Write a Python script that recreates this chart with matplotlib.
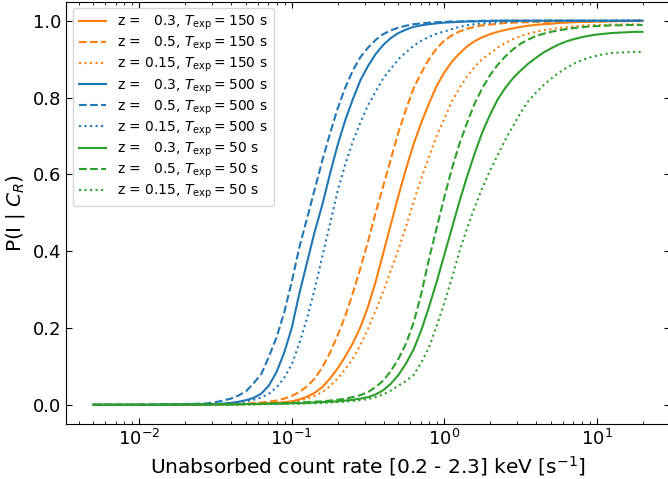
import numpy as np
import matplotlib
matplotlib.use("Agg")
import matplotlib.pyplot as plt

# count-rate grid (s^-1), 0.005 .. 20 (log10 values)
log_rate = [-2.3, -2.1, -1.9, -1.7] + [round(-1.6 + 0.05 * i, 2) for i in range(59)]
rate = 10.0 ** np.array(log_rate)

# T_exp = 150 s (orange)
p150_z03 = [0, 0, 0, 0,
            0, 0, .001, .001, .001, .002, .002, .003, .003, .004, .005, .007,
            .009, .014, .021, .031, .046, .068, .094, .125, .16, .202, .255, .32, .395, .47, .545, .615, .68, .735, .785, .83,
            .865, .893, .915, .933, .947, .957, .965, .971, .976, .98, .984, .987, .989, .991, .992, .994, .995, .996, .997, .997,
            .998, .998, .999, .999, .999, 1.0, 1.0]
p150_z05 = [0, 0, 0, 0,
            0, .001, .001, .001, .002, .002, .003, .004, .006, .008, .011, .016,
            .023, .033, .048, .068, .097, .135, .18, .23, .29, .355, .425, .50, .57, .64, .71, .77, .825, .865, .90, .928,
            .948, .962, .972, .979, .984, .988, .99, .992, .994, .995, .996, .996, .997, .997, .997, .998, .998, .998, .998, .998,
            .998, .998, .999, .999, .999, .999, .999]
p150_z015 = [0, 0, 0, 0,
             0, 0, 0, 0, .001, .001, .001, .002, .002, .003, .004, .005,
             .007, .011, .016, .023, .033, .048, .068, .092, .12, .155, .198, .245, .295, .35, .405, .465, .53, .59, .645, .70,
             .745, .79, .825, .855, .88, .90, .915, .93, .942, .952, .96, .966, .971, .975, .978, .981, .983, .985, .987, .988,
             .989, .989, .99, .99, .99, .99, .99]

# T_exp = 500 s (blue)
p500_z03 = [0, 0, 0, .001,
            .001, .001, .002, .003, .005, .008, .012, .018, .029, .05, .085, .135,
            .20, .29, .37, .45, .52, .60, .675, .74, .795, .845, .882, .913, .937, .955, .968, .977, .984, .988, .991, .993,
            .995, .996, .997, .998, .998, .999, .999, 1, 1, 1, 1, 1, 1, 1, 1, 1, 1, 1, 1, 1,
            1, 1, 1, 1, 1, 1, 1]
p500_z05 = [0, 0, .001, .002,
            .003, .004, .007, .011, .016, .024, .035, .056, .08, .125, .175, .24,
            .32, .41, .485, .56, .635, .705, .77, .825, .87, .905, .93, .95, .965, .975, .982, .987, .991, .993, .995, .996,
            .997, .998, .998, .999, .999, 1, 1, 1, 1, 1, 1, 1, 1, 1, 1, 1, 1, 1, 1, 1,
            1, 1, 1, 1, 1, 1, 1]
p500_z015 = [0, 0, 0, 0,
             .001, .002, .002, .003, .004, .006, .009, .013, .019, .029, .045, .07,
             .105, .16, .225, .30, .385, .47, .555, .625, .685, .735, .78, .815, .85, .875, .90, .918, .935, .948, .958, .966,
             .972, .978, .984, .988, .991, .993, .995, .996, .997, .998, .998, .999, .999, 1, 1, 1, 1, 1, 1, 1,
             1, 1, 1, 1, 1, 1, 1]

# T_exp = 50 s (green)
p50_z03 = [0, 0, 0, .001,
           .001, .001, .001, .001, .001, .001, .002, .002, .002, .003, .003, .003,
           .004, .004, .005, .006, .007, .008, .009, .011, .013, .016, .02, .027, .038, .055, .078, .108, .145, .195, .255, .32,
           .39, .46, .53, .595, .655, .71, .755, .795, .825, .85, .87, .888, .903, .917, .928, .938, .946, .952, .957, .961,
           .964, .966, .968, .969, .97, .971, .971]
p50_z05 = [0, 0, 0, .001,
           .001, .001, .001, .001, .001, .002, .002, .002, .003, .003, .004, .004,
           .005, .006, .007, .008, .009, .011, .013, .016, .02, .025, .033, .046, .063, .088, .12, .16, .215, .29, .38, .46,
           .54, .615, .68, .735, .785, .825, .858, .885, .907, .925, .94, .951, .96, .966, .971, .975, .978, .981, .983, .985,
           .986, .987, .988, .988, .989, .989, .989]
p50_z015 = [0, 0, 0, .001,
            .001, .001, .001, .001, .001, .001, .001, .001, .002, .002, .002, .003,
            .003, .003, .004, .004, .005, .006, .007, .008, .01, .012, .015, .02, .027, .037, .05, .062, .078, .11, .15, .205,
            .265, .33, .40, .46, .515, .565, .61, .65, .69, .725, .76, .79, .812, .832, .849, .864, .877, .888, .897, .904,
            .909, .913, .916, .917, .918, .919, .919]

series = [
    ("z =   0.3", 150, p150_z03, "tab:orange", "-"),
    ("z =   0.5", 150, p150_z05, "tab:orange", "--"),
    ("z = 0.15", 150, p150_z015, "tab:orange", ":"),
    ("z =   0.3", 500, p500_z03, "tab:blue", "-"),
    ("z =   0.5", 500, p500_z05, "tab:blue", "--"),
    ("z = 0.15", 500, p500_z015, "tab:blue", ":"),
    ("z =   0.3", 50, p50_z03, "tab:green", "-"),
    ("z =   0.5", 50, p50_z05, "tab:green", "--"),
    ("z = 0.15", 50, p50_z015, "tab:green", ":"),
]
for s in series:
    assert len(s[2]) == len(rate), (s[0], s[1], len(s[2]))

fig = plt.figure(figsize=(6.68, 4.79), dpi=100)
ax = fig.add_axes([66 / 668, 55 / 479, 604 / 668, 422.5 / 479])

for zlab, texp, vals, col, ls in series:
    ax.plot(rate, vals, color=col, ls=ls, lw=1.5,
            label=zlab + r", $T_{\rm exp} = %d$ s" % texp)

ax.set_xscale("log")
ax.set_xlabel(r"Unabsorbed count rate [0.2 - 2.3] keV [s$^{-1}$]", fontsize=14.5)
ax.set_ylabel(r"P(I | $C_R$)", fontsize=14.5)
ax.tick_params(which="both", direction="in", top=True, right=True, labelsize=13)
ax.tick_params(which="major", length=4)
ax.tick_params(which="minor", length=2.5)
ax.set_yticks([0.0, 0.2, 0.4, 0.6, 0.8, 1.0])
ax.legend(loc="upper left", fontsize=10, labelspacing=0.2)

fig.savefig("out.png", dpi=100)
